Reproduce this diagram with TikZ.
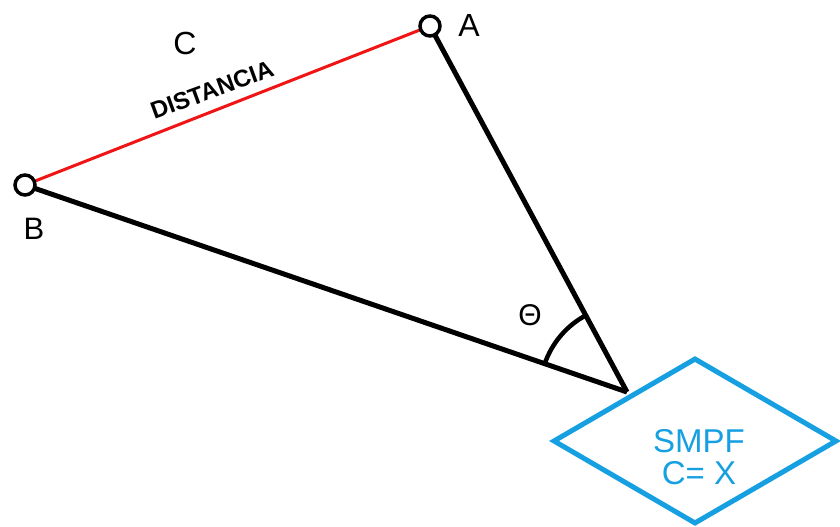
\documentclass[tikz,border=0pt]{standalone}
\usepackage{fontspec}
\setmainfont{Liberation Sans}
\usetikzlibrary{shapes.geometric}
\definecolor{smpfblue}{RGB}{22,160,226}
\definecolor{distred}{RGB}{240,20,20}
\begin{document}
\begin{tikzpicture}[x=1pt,y=1pt,
  station/.style={circle,draw=black,line width=3.5pt,fill=white,minimum size=20pt,inner sep=0pt},
  sideline/.style={line width=5pt,black},
  lbl/.style={font=\fontsize{32}{36}\selectfont,inner sep=0pt},
  smpf/.style={diamond,draw=smpfblue,line width=5pt,minimum width=284pt,minimum height=166pt,inner sep=0pt},
  smpftext/.style={text=smpfblue,align=center,inner sep=0pt,font=\fontsize{33}{32}\selectfont}]
\useasboundingbox (0,0) rectangle (840,527);
\coordinate (P) at (627,135);
\node[smpf] (S) at (695,86) {};
\node[smpftext] (St) at (699,70) {SMPF\\C= X};
\draw[distred,line width=3pt] (25,342) -- (430,501);
\draw[sideline] (25,342) -- (P);
\draw[sideline] (430,501) -- (P);
\node[station] (A) at (430,501) {};
\node[station] (B) at (25,342) {};
\draw[line width=4.5pt] (P) ++(161.5:87pt) arc[start angle=161.5,end angle=117.8,radius=87pt];
\node[lbl] (la) at (469,502) {A};
\node[lbl,font=\fontsize{31}{34}\selectfont] (lb) at (34,298) {B};
\node[lbl] (lc) at (185,484) {C};
\node[lbl,font=\fontsize{30}{34}\selectfont] (lt) at (530,212) {Θ};
\node[inner sep=0pt,rotate=20,font=\bfseries\fontsize{24}{28}\selectfont] (ld) at (212,437) {DISTANCIA};
\end{tikzpicture}
\end{document}
